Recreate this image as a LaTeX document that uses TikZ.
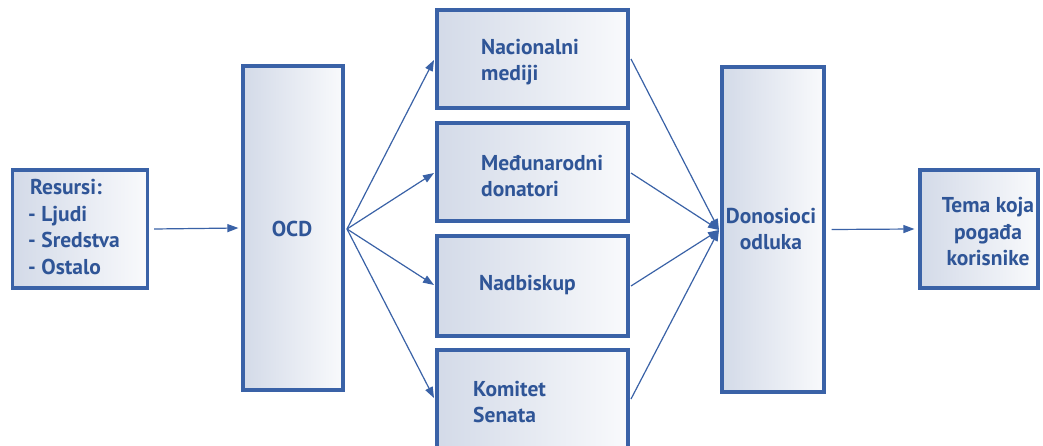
\documentclass[tikz,border=0pt]{standalone}
\usepackage{fontspec}
\setmainfont{PT Sans}
\usetikzlibrary{arrows.meta}
\definecolor{boxline}{HTML}{3A62A7}
\definecolor{boxtext}{HTML}{2F5597}
\definecolor{shadeL}{HTML}{D3DAE8}
\definecolor{shadeR}{HTML}{F9FAFC}
\tikzset{
  box/.style={draw=boxline, line width=3.2pt, left color=shadeL, right color=shadeR,
    rectangle, inner sep=0pt},
  lbl/.style={text=boxtext, font=\fontsize{21.5}{26.5}\selectfont\bfseries, inner sep=0pt, align=left},
  conn/.style={draw=boxline, line width=1.2pt, -{Triangle[length=11pt,width=8pt]}},
}
\begin{document}
\begin{tikzpicture}[x=1pt,y=-1pt]
\clip (0,0) rectangle (1043,446);
\fill[white] (0,0) rectangle (1043,446);
% boxes
\node[box, minimum width=135pt, minimum height=118pt] (res) at (80,229) {};
\node[box, minimum width=100pt, minimum height=324pt] (ocd) at (293,228) {};
\node[box, minimum width=191pt, minimum height=98pt] (nac) at (532.5,59) {};
\node[box, minimum width=191pt, minimum height=98pt] (med) at (532.5,172) {};
\node[box, minimum width=191pt, minimum height=100pt] (nad) at (532.5,286) {};
\node[box, minimum width=191pt, minimum height=120pt] (kom) at (532.5,410) {};
\node[box, minimum width=102pt, minimum height=325pt] (don) at (773,229.5) {};
\node[box, minimum width=118pt, minimum height=118pt] (tem) at (979,229) {};
% texts
\node[lbl, anchor=west] (tres) at (28,227) {\hspace*{2pt}Resursi:\\- Ljudi\\- Sredstva\\- Ostalo};
\node[lbl] (tocd) at (292,229) {OCD};
\node[lbl, anchor=west] (tnac) at (481,62) {Nacionalni\\mediji};
\node[lbl, anchor=west] (tmed) at (481,176) {Međunarodni\\donatori};
\node[lbl, anchor=west] (tnad) at (479,285) {Nadbiskup};
\node[lbl, anchor=west] (tkom) at (473,402) {Komitet\\Senata};
\node[lbl, align=center] (tdon) at (771,229) {Donosioci\\odluka};
\node[lbl, align=center] (ttem) at (988,232) {Tema koja\\pogađa\\korisnike};
% connectors
\coordinate (ocdout) at (347,229);
\coordinate (donin) at (719,230);
\draw[conn] ([xshift=5pt]res.east) -- ([xshift=-3pt]ocd.west);
\draw[conn] (ocdout) -- (434,60);
\draw[conn] (ocdout) -- (434,173);
\draw[conn] (ocdout) -- (434,285);
\draw[conn] (ocdout) -- (434,398);
\draw[conn] (631,59) -- (donin);
\draw[conn] (631,173) -- (donin);
\draw[conn] (631,286) -- (donin);
\draw[conn] (631,399) -- (donin);
\draw[conn] ([xshift=6pt]don.east) -- ([xshift=-4pt]tem.west);
\end{tikzpicture}
\end{document}
